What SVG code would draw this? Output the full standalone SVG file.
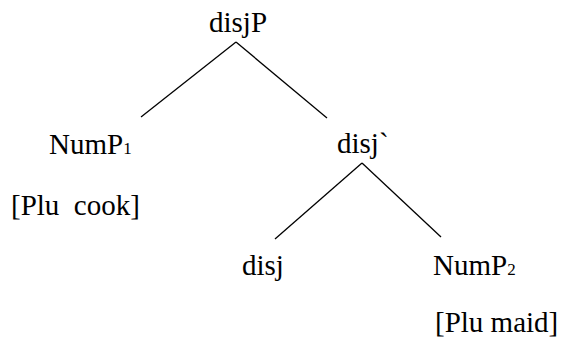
<svg xmlns="http://www.w3.org/2000/svg" width="567" height="345" viewBox="0 0 567 345">
<rect width="567" height="345" fill="#fff"/>
<g id="connectors" stroke="#000" stroke-width="1.3">
<line x1="236" y1="42" x2="141" y2="117"/>
<line x1="236" y1="42" x2="327" y2="118"/>
<line x1="362" y1="163" x2="275" y2="239"/>
<line x1="362" y1="163" x2="441" y2="237"/>
</g>
<g id="disjP"><text x="209" y="32" font-family="Liberation Serif, serif" font-size="29">disjP</text></g>
<g id="disjbar"><text x="337" y="153" font-family="Liberation Serif, serif" font-size="29">disj`</text></g>
<g id="NumP1"><text x="49" y="154" font-family="Liberation Serif, serif" font-size="29">NumP<tspan font-size="17">1</tspan></text><text x="11" y="215" font-family="Liberation Serif, serif" font-size="29" xml:space="preserve">[Plu  cook]</text></g>
<g id="disj"><text x="242" y="275" font-family="Liberation Serif, serif" font-size="29">disj</text></g>
<g id="NumP2"><text x="433" y="275" font-family="Liberation Serif, serif" font-size="29">NumP<tspan font-size="17">2</tspan></text><text x="435" y="332" font-family="Liberation Serif, serif" font-size="29">[Plu maid]</text></g>
</svg>
